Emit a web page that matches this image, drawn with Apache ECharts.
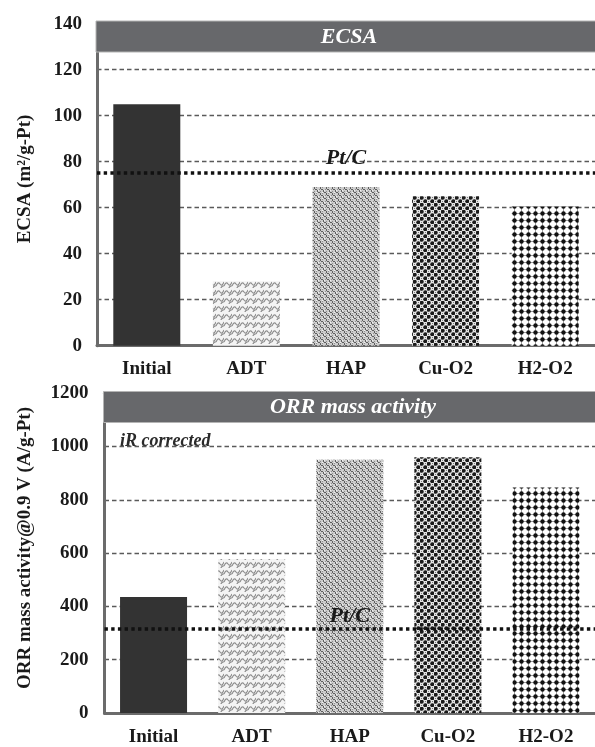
<!DOCTYPE html>
<html>
<head>
<meta charset="utf-8">
<script src="https://cdn.jsdelivr.net/npm/echarts@6/dist/echarts.min.js"></script>
<style>
  html, body { margin: 0; padding: 0; background: #fff; overflow: hidden; }
  #chart { width: 595px; height: 747px; }
</style>
</head>
<body>
<div id="chart"></div>
<script>
// Samples and measured values
const categories = ['Initial', 'ADT', 'HAP', 'Cu-O2', 'H2-O2'];
const ecsaValues = [105, 28, 69, 65, 60.5];
const massActivityValues = [435, 578, 950, 960, 846];
const ptcEcsa = 75;
const ptcMassActivity = 315;
const ecsaTicks = [0, 20, 40, 60, 80, 100, 120, 140];
const massTicks = [0, 200, 400, 600, 800, 1000, 1200];

const SERIF = "'Liberation Serif', 'Times New Roman', serif";
const AXIS_GRAY = '#6b6b6b';

// ---- fill patterns for the bars ----
function tile(w, h, draw) {
  const c = document.createElement('canvas');
  c.width = w; c.height = h;
  const ctx = c.getContext('2d');
  draw(ctx, w, h);
  return { image: c, repeat: 'repeat' };
}

// light wavy hatch
const wavyFill = tile(8, 8, (ctx) => {
  ctx.fillStyle = '#f4f4f4'; ctx.fillRect(0, 0, 8, 8);
  ctx.strokeStyle = '#8c8c8c'; ctx.lineWidth = 1.1;
  ctx.beginPath();
  ctx.moveTo(0, 6); ctx.quadraticCurveTo(2, 1, 4, 4); ctx.quadraticCurveTo(6, 7, 8, 2);
  ctx.stroke();
  ctx.beginPath();
  ctx.moveTo(-4, 2); ctx.quadraticCurveTo(-2, -3, 0, 0);
  ctx.moveTo(4, 10); ctx.quadraticCurveTo(6, 5, 8, 6);
  ctx.stroke();
});

// medium gray woven texture
const wovenFill = tile(6, 6, (ctx) => {
  ctx.fillStyle = '#cdcdcd'; ctx.fillRect(0, 0, 6, 6);
  ctx.fillStyle = '#5e5e5e';
  ctx.fillRect(0, 0, 2, 1); ctx.fillRect(2, 1, 1, 2);
  ctx.fillRect(3, 3, 2, 1); ctx.fillRect(5, 4, 1, 2);
  ctx.fillStyle = '#f2f2f2';
  ctx.fillRect(4, 0, 1, 1); ctx.fillRect(0, 4, 1, 1);
  ctx.fillStyle = '#8e8e8e';
  ctx.fillRect(1, 3, 1, 1); ctx.fillRect(4, 1, 1, 1); ctx.fillRect(2, 5, 1, 1);
});

// dark checker of dots
const checkerFill = tile(7, 7, (ctx) => {
  ctx.fillStyle = '#e6e6e6'; ctx.fillRect(0, 0, 7, 7);
  ctx.fillStyle = '#1a1a1a';
  ctx.beginPath(); ctx.arc(1.75, 1.75, 2.0, 0, Math.PI * 2); ctx.fill();
  ctx.beginPath(); ctx.arc(5.25, 5.25, 2.0, 0, Math.PI * 2); ctx.fill();
  ctx.fillStyle = '#7a7a7a';
  ctx.fillRect(5, 1, 1, 1); ctx.fillRect(1, 5, 1, 1);
});

// grid of black dots joined by thin lines
const dotGridFill = tile(7, 7, (ctx) => {
  ctx.fillStyle = '#ffffff'; ctx.fillRect(0, 0, 7, 7);
  ctx.strokeStyle = '#9a9a9a'; ctx.lineWidth = 1;
  ctx.beginPath();
  ctx.moveTo(0, 3.5); ctx.lineTo(7, 3.5);
  ctx.moveTo(3.5, 0); ctx.lineTo(3.5, 7);
  ctx.stroke();
  ctx.fillStyle = '#111';
  ctx.beginPath(); ctx.arc(3.5, 3.5, 2.2, 0, Math.PI * 2); ctx.fill();
});

const barFills = ['#333333', wavyFill, wovenFill, checkerFill, dotGridFill];

function barData(values) {
  return values.map((v, i) => ({ value: v, itemStyle: { color: barFills[i] } }));
}

const dashedGrid = { show: true, lineStyle: { color: '#5a5a5a', width: 1.4, type: [4.5, 3] } };
const axisLineStyle = { show: true, lineStyle: { color: AXIS_GRAY, width: 3 } };
const tickLabel = { color: '#1a1a1a', fontFamily: SERIF, fontWeight: 'bold', fontSize: 19 };
const plainNumber = (v) => String(v);

function ptcLine(value, labelDistance) {
  return {
    silent: true,
    symbol: 'none',
    lineStyle: { color: '#111', width: 3.5, type: [3.4, 3.3] },
    label: {
      show: true, position: 'insideMiddleTop', distance: labelDistance,
      formatter: 'Pt/C', color: '#1a1a1a', fontFamily: SERIF,
      fontStyle: 'italic', fontWeight: 'bold', fontSize: 22
    },
    data: [{ yAxis: value }]
  };
}

function titleBand(x, y, text, cx) {
  return {
    type: 'group',
    children: [
      { type: 'rect', shape: { x: x, y: y, width: 620, height: 31 },
        style: { fill: '#67686b', stroke: '#b4b4b4', lineWidth: 1 }, z: 100 },
      { type: 'text', x: cx, y: y + 16,
        style: { text: text, fill: '#ffffff', font: 'italic bold 22px ' + SERIF,
                 textAlign: 'center', textVerticalAlign: 'middle' }, z: 101 }
    ]
  };
}

function axisName(text, cx, cy) {
  return {
    type: 'text', x: cx, y: cy, rotation: Math.PI / 2,
    style: { text: text, fill: '#1a1a1a', font: 'bold 19px ' + SERIF,
             textAlign: 'center', textVerticalAlign: 'middle' }
  };
}

const chart = echarts.init(document.getElementById('chart'), null, { renderer: 'canvas' });

chart.setOption({
  backgroundColor: '#ffffff',
  animation: false,
  grid: [
    { left: 97, top: 23.7, width: 503, height: 322 },
    { left: 104.5, top: 393.2, width: 497.5, height: 322.8 }
  ],
  xAxis: [
    { gridIndex: 0, type: 'category', data: categories, axisLine: axisLineStyle,
      axisTick: { show: false }, axisLabel: Object.assign({ margin: 14 }, tickLabel) },
    { gridIndex: 1, type: 'category', data: categories, axisLine: axisLineStyle,
      axisTick: { show: false }, axisLabel: Object.assign({ margin: 15 }, tickLabel) }
  ],
  yAxis: [
    { gridIndex: 0, type: 'value', min: ecsaTicks[0], max: ecsaTicks[ecsaTicks.length - 1],
      interval: ecsaTicks[1] - ecsaTicks[0], axisLine: axisLineStyle, axisTick: { show: false },
      axisLabel: Object.assign({ margin: 15, formatter: plainNumber }, tickLabel), splitLine: dashedGrid },
    { gridIndex: 1, type: 'value', min: massTicks[0], max: massTicks[massTicks.length - 1],
      interval: massTicks[1] - massTicks[0], axisLine: axisLineStyle, axisTick: { show: false },
      axisLabel: Object.assign({ margin: 16, formatter: plainNumber }, tickLabel), splitLine: dashedGrid }
  ],
  series: [
    { type: 'bar', name: 'ECSA', xAxisIndex: 0, yAxisIndex: 0, barWidth: 67,
      data: barData(ecsaValues), markLine: ptcLine(ptcEcsa, 4) },
    { type: 'bar', name: 'ORR mass activity', xAxisIndex: 1, yAxisIndex: 1, barWidth: 67,
      data: barData(massActivityValues), markLine: ptcLine(ptcMassActivity, 2) }
  ],
  graphic: [
    titleBand(96, 21, 'ECSA', 349),
    titleBand(103.5, 391.5, 'ORR mass activity', 353),
    axisName('ECSA (m²/g-Pt)', 25, 179),
    axisName('ORR mass activity@0.9 V (A/g-Pt)', 25, 548),
    { type: 'text', x: 120, y: 441,
      style: { text: 'iR corrected', fill: '#2a2a2a', font: 'italic bold 18px ' + SERIF,
               textVerticalAlign: 'middle' } }
  ]
});
</script>
</body>
</html>
